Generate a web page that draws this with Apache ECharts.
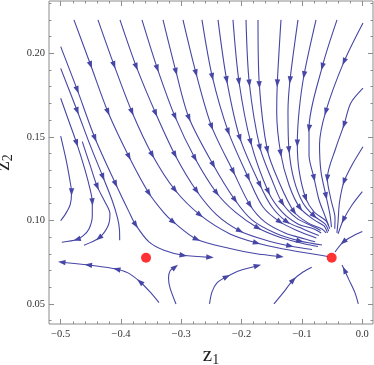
<!DOCTYPE html>
<html>
<head>
<meta charset="utf-8" />
<title>Stream plot z1 z2</title>
<script src="https://cdn.jsdelivr.net/npm/echarts@6/dist/echarts.min.js"></script>
<style>
  html, body { margin: 0; padding: 0; background: #fff; }
  #main { width: 374px; height: 365px; }
</style>
</head>
<body>
<div id="main"></div>
<script>
// streamlines, points in flow order: [z1, z2] (third value 1 = arrowhead here)
var leftA = [[-0.500,0.1505],[-0.491,0.1362],[-0.484,0.1224],[-0.482,0.1170,1],[-0.484,0.1098],[-0.491,0.1045],[-0.500,0.0998]];
var leftB = [[-0.500,0.1731],[-0.486,0.1589],[-0.4735,0.1462,1],[-0.4597,0.1302],[-0.4514,0.1188],[-0.4476,0.1110,1],[-0.4476,0.1027],[-0.4531,0.0949],[-0.4630,0.0907],[-0.4730,0.0886,1],[-0.4982,0.0869]];
var leftC = [[-0.4642,0.1471],[-0.4514,0.1332],[-0.4393,0.1202,1],[-0.4265,0.1110],[-0.4183,0.1039],[-0.4216,0.0967],[-0.4365,0.0895,1],[-0.4614,0.0851]];
var leftD = [[-0.500,0.1910],[-0.4725,0.1655,1],[-0.4514,0.1452],[-0.4299,0.1260,1],[-0.4149,0.1122],[-0.4058,0.1015],[-0.4025,0.0943],[-0.4022,0.0881]];
var leftE = [[-0.500,0.2040],[-0.4725,0.1781,1],[-0.4431,0.1492,1],[-0.4088,0.1218,1],[-0.3867,0.1051],[-0.3756,0.0973,1],[-0.3536,0.0871],[-0.3287,0.0821],[-0.2967,0.0791,1],[-0.2524,0.0779,1]];

var topA = [[-0.4780,0.2200],[-0.4503,0.1930,1],[-0.4216,0.1649,1],[-0.3867,0.1381,1],[-0.3536,0.1162,1],[-0.3287,0.1045],[-0.3133,0.0991,1],[-0.2745,0.0887,1],[-0.2192,0.0832],[-0.1778,0.0802],[-0.1363,0.0784,1]];
var topB = [[-0.4382,0.2200],[-0.4116,0.1930,1],[-0.3818,0.1649,1],[-0.3481,0.1392,1],[-0.3104,0.1182,1],[-0.2690,0.1033,1],[-0.2192,0.0919],[-0.1750,0.0865,1],[-0.1308,0.0829],[-0.0866,0.0802],[-0.0567,0.0784]];
var topC = [[-0.4017,0.2200],[-0.3746,0.1920,1],[-0.3425,0.1641,1],[-0.3104,0.1392,1],[-0.2745,0.1176,1],[-0.2413,0.1033],[-0.2027,0.0937,1],[-0.1612,0.0883],[-0.1197,0.0847,1],[-0.0833,0.0826]];
var topD = [[-0.3652,0.2200],[-0.3398,0.1910,1],[-0.3104,0.1621,1],[-0.2773,0.1372,1],[-0.2413,0.1164,1],[-0.2109,0.1051],[-0.1728,0.0955,1],[-0.1330,0.0895],[-0.0949,0.0859],[-0.0733,0.0844]];
var topE = [[-0.3303,0.2200],[-0.3088,0.1890,1],[-0.2872,0.1613,1],[-0.2469,0.1332,1],[-0.2109,0.1122,1],[-0.1828,0.1003],[-0.1446,0.0925],[-0.1032,0.0877,1],[-0.0667,0.0853]];
var topF = [[-0.2972,0.2200],[-0.2756,0.1881,1],[-0.2496,0.1561,1],[-0.2138,0.1292,1],[-0.1861,0.1092,1],[-0.1615,0.0991],[-0.1280,0.0925],[-0.0949,0.0889],[-0.0780,0.0872]];
var topG = [[-0.2657,0.2200],[-0.2486,0.1860,1],[-0.2221,0.1531,1],[-0.1889,0.1256,1],[-0.1645,0.1080],[-0.1363,0.0991,1],[-0.1065,0.0937],[-0.0760,0.0895]];
var topH = [[-0.2391,0.2200],[-0.2247,0.1840,1],[-0.2027,0.1492,1],[-0.1695,0.1212,1],[-0.1496,0.1080],[-0.1247,0.0991,1],[-0.0982,0.0949],[-0.0720,0.0910]];
var topI = [[-0.2143,0.2200],[-0.2043,0.1830,1],[-0.1849,0.1468,1],[-0.1557,0.1172,1],[-0.1330,0.1051],[-0.1065,0.0979],[-0.0799,0.0949],[-0.0680,0.0925]];
var topJ = [[-0.1927,0.2200],[-0.1872,0.1821,1],[-0.1695,0.1435,1],[-0.1496,0.1242],[-0.1325,0.1104,1],[-0.1095,0.1015],[-0.0833,0.0967],[-0.0690,0.0940]];
var topK = [[-0.1728,0.2200],[-0.1706,0.1811,1],[-0.1574,0.1422,1],[-0.1380,0.1230],[-0.1131,0.1052,1],[-0.0899,0.0985],[-0.0667,0.0949],[-0.0600,0.0925]];
var topL = [[-0.1347,0.2200],[-0.1408,0.1821,1],[-0.1418,0.1649],[-0.1352,0.1402,1],[-0.1214,0.1212],[-0.1032,0.1075,1],[-0.0799,0.1003],[-0.0634,0.0967],[-0.0575,0.0925]];
var topM = [[-0.1065,0.2200],[-0.1197,0.1840,1],[-0.1231,0.1649],[-0.1214,0.1422,1],[-0.1131,0.1242],[-0.0982,0.1104],[-0.0799,0.1027,1],[-0.0617,0.0979],[-0.0555,0.0935]];
var topN = [[-0.0766,0.2200],[-0.0965,0.1870,1],[-0.1048,0.1649],[-0.1076,0.1462,1],[-0.1048,0.1302],[-0.0937,0.1133,1],[-0.0799,0.1051],[-0.0600,0.0997],[-0.0540,0.0950]];
var topO = [[-0.0418,0.2200],[-0.0662,0.1920,1],[-0.0882,0.1551,1],[-0.0882,0.1392],[-0.0799,0.1254,1],[-0.0716,0.1122],[-0.0617,0.1027],[-0.0560,0.0970]];
var topP = [[0.0013,0.2182],[-0.0302,0.1950,1],[-0.0605,0.1651,1],[-0.0708,0.1452],[-0.0683,0.1290],[-0.0600,0.1146,1],[-0.0534,0.1033],[-0.0510,0.0960]];

var rightA = [[0.0013,0.1791],[-0.0191,0.1701],[-0.0302,0.1572,1],[-0.0439,0.1432],[-0.0579,0.1252,1],[-0.0517,0.1122],[-0.0451,0.1015],[-0.0455,0.0950]];
var rightB = [[0.0013,0.1441],[-0.0169,0.1332],[-0.0302,0.1232,1],[-0.0376,0.1110],[-0.0401,0.0991],[-0.0420,0.0925]];
var rightC = [[0.0002,0.1172],[-0.0169,0.1092],[-0.0313,0.1003,1],[-0.0401,0.0919]];
var rightD = [[0.0002,0.0933],[-0.0169,0.0904],[-0.0313,0.0871,1],[-0.0451,0.0811]];

var botA = [[-0.3370,0.0508],[-0.3519,0.0572],[-0.3685,0.0633,1],[-0.3884,0.0686],[-0.4071,0.0708,1],[-0.4348,0.0724],[-0.4542,0.0733,1],[-0.4983,0.0750,1]];
var botB = [[-0.3088,0.0500],[-0.3187,0.0596],[-0.3212,0.0655],[-0.3187,0.0697],[-0.3104,0.0721,1]];
var botC = [[-0.2532,0.0500],[-0.2491,0.0572],[-0.2408,0.0626],[-0.2247,0.0663,1],[-0.2027,0.0700],[-0.1736,0.0729,1]];
var botD = [[-0.1463,0.0500],[-0.1313,0.0566],[-0.1143,0.0644,1],[-0.0982,0.0691],[-0.0837,0.0720]];
var botE = [[-0.0065,0.0500],[-0.0119,0.0566],[-0.0219,0.0644],[-0.0294,0.0703,1],[-0.0335,0.0733]];

var streamLines = [leftA, leftB, leftC, leftD, leftE,
  topA, topB, topC, topD, topE, topF, topG, topH, topI, topJ, topK, topL, topM, topN, topO, topP,
  rightA, rightB, rightC, rightD, botA, botB, botC, botD, botE];

// fixed points
var fixedZ1 = [-0.3585, -0.0506];
var fixedZ2 = [0.0777, 0.0777];

// ticks
var xMajor = [-0.5, -0.4, -0.3, -0.2, -0.1, 0];
var xMajorLabels = ['\u22120.5', '\u22120.4', '\u22120.3', '\u22120.2', '\u22120.1', '0.0'];
var xMinor = [-0.48, -0.46, -0.44, -0.42, -0.38, -0.36, -0.34, -0.32, -0.28, -0.26, -0.24, -0.22,
  -0.18, -0.16, -0.14, -0.12, -0.08, -0.06, -0.04, -0.02];
var yMajor = [0.05, 0.10, 0.15, 0.20];
var yMajorLabels = ['0.05', '0.10', '0.15', '0.20'];
var yMinor = [0.04, 0.06, 0.07, 0.08, 0.09, 0.11, 0.12, 0.13, 0.14, 0.16, 0.17, 0.18, 0.19, 0.21, 0.22, 0.23];

var streamColor = '#4646a6';
var frameColor = '#8c8c8c';
var serif = 'Liberation Serif';
// narrow arrowhead pointing up; the two empty moves keep its box 10 x 11
var arrowHead = 'path://M0,0L0,0M10,11L10,11M5,0L8.6,11L1.4,11Z';

function labelFor(values, labels) {
  return function (v) {
    for (var i = 0; i < values.length; i++) {
      if (Math.abs(values[i] - v) < 1e-9) return labels[i];
    }
    return '';
  };
}

function tickAxis(position, range, values, len, extra) {
  var ax = {
    type: 'value', min: range[0], max: range[1], position: position,
    axisLine: { show: false, onZero: false }, splitLine: { show: false },
    axisTick: { inside: true, length: len, customValues: values, lineStyle: { color: frameColor, width: 1 } },
    axisLabel: { show: false }
  };
  return Object.assign(ax, extra || {});
}

var xRange = [-0.5194, 0.0179];
var yRange = [0.0380, 0.2313];

var axisNameStyle = {
  fontFamily: serif, color: '#222',
  rich: {
    z: { fontFamily: serif, fontSize: 21, color: '#222' },
    s: { fontFamily: serif, fontSize: 14, color: '#222', padding: [10, 0, 0, 0] }
  }
};

// echarts moves a second axis on an occupied side to the opposite side,
// so the minor-tick axes are listed with the side they get flipped from
var xAxes = [
  tickAxis('bottom', xRange, xMajor, 5, {
    axisLabel: { show: true, customValues: xMajor, formatter: labelFor(xMajor, xMajorLabels),
      margin: 5, fontFamily: serif, fontSize: 10.5, color: '#333' },
    name: '{z|z}{s|1}', nameLocation: 'middle', nameGap: 15, nameTextStyle: axisNameStyle
  }),
  tickAxis('top', xRange, xMajor, 5),
  tickAxis('top', xRange, xMinor, 2.5),
  tickAxis('bottom', xRange, xMinor, 2.5)
];
var yAxes = [
  tickAxis('left', yRange, yMajor, 5, {
    axisLabel: { show: true, customValues: yMajor, formatter: labelFor(yMajor, yMajorLabels),
      margin: 4, fontFamily: serif, fontSize: 10.5, color: '#333' },
    name: '{z|z}{s|2}', nameLocation: 'middle', nameGap: 26, nameRotate: 90, nameTextStyle: axisNameStyle
  }),
  tickAxis('right', yRange, yMajor, 5),
  tickAxis('right', yRange, yMinor, 2.5),
  tickAxis('left', yRange, yMinor, 2.5)
];

var series = streamLines.map(function (pts) {
  return {
    type: 'line', smooth: 0.3, showSymbol: false, symbol: 'none', silent: true,
    data: pts.map(function (p) { return [p[0], p[1]]; }),
    lineStyle: { color: streamColor, width: 1.1 }, z: 2
  };
});

// arrowheads, oriented along the local direction of the streamline
var arrowData = [];
streamLines.forEach(function (pts) {
  pts.forEach(function (p, i) {
    if (p[2] !== 1) return;
    var a = pts[Math.max(i - 1, 0)];
    var b = pts[Math.min(i + 1, pts.length - 1)];
    var dx = b[0] - a[0], dy = b[1] - a[1];
    arrowData.push({ coords: [[p[0] - dx * 0.05, p[1] - dy * 0.05], [p[0], p[1]]] });
  });
});
series.push({
  type: 'lines', coordinateSystem: 'cartesian2d', silent: true,
  symbol: ['none', arrowHead], symbolSize: 7.5,
  lineStyle: { color: streamColor, width: 0, opacity: 1 },
  data: arrowData, z: 3
});

series.push({
  type: 'scatter', silent: true, symbol: 'circle', symbolSize: 10,
  itemStyle: { color: '#ff0000' },
  data: fixedZ1.map(function (v, i) { return [v, fixedZ2[i]]; }), z: 4
});

var myChart = echarts.init(document.getElementById('main'));
myChart.setOption({
  animation: false,
  backgroundColor: '#fff',
  grid: { left: 49, right: 1, top: 1, bottom: 41, outerBoundsMode: 'none', containLabel: false,
    show: true, borderColor: frameColor, borderWidth: 1 },
  xAxis: xAxes,
  yAxis: yAxes,
  series: series
});
</script>
</body>
</html>
